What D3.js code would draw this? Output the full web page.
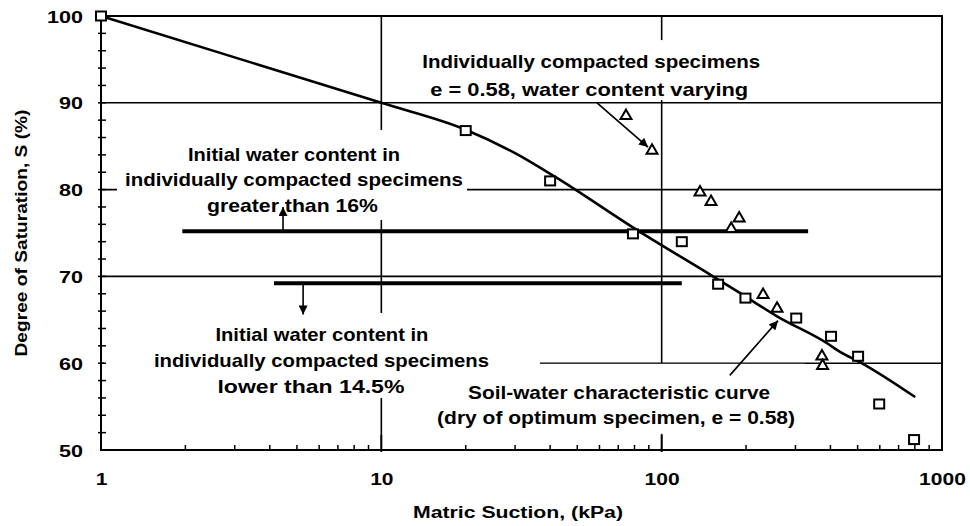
<!DOCTYPE html>
<html><head><meta charset="utf-8">
<script src="https://cdn.jsdelivr.net/npm/d3@7"></script>
<style>
body{margin:0;background:#fff}
svg{display:block}
text{font-family:"Liberation Sans",Arial,Helvetica,sans-serif;font-weight:bold;fill:#000}
</style>
</head><body>
<svg id="c" width="970" height="526"></svg>
<script>
// ---------- data ----------
const swccSuction    = [1, 20, 40, 79, 118, 159, 199, 302, 402, 502, 597, 795];
const swccSaturation = [100, 86.8, 81.0, 74.9, 74.0, 69.1, 67.5, 65.2, 63.1, 60.8, 55.3, 51.2];
const specSuction    = [74.6, 92.4, 137, 150, 189, 177, 230, 258, 373, 375];
const specSaturation = [88.6, 84.6, 79.8, 78.7, 76.8, 75.6, 68.0, 66.4, 60.9, 59.8];
const curveSuction    = [1, 10, 20, 30, 42, 82, 149, 190, 258, 389, 433, 511, 802];
const curveSaturation = [100, 90, 86.9, 84.2, 81.4, 75.3, 70.2, 68.1, 65.4, 62.3, 61.3, 60.1, 56.1];
const xTickValues = [1, 10, 100, 1000];
const yTickValues = [50, 60, 70, 80, 90, 100];
const xTickLabels = ["1", "10", "100", "1000"];
const yTickLabels = ["50", "60", "70", "80", "90", "100"];
// annotation levels (suction kPa, saturation %)
const wetBand = {from: 1.95, to: 333, s: 75.2, arrowAt: 4.46, arrowTip: 78.0};
const dryBand = {from: 4.14, to: 118, s: 69.2, arrowAt: 5.26, arrowTip: 65.6};
const specArrow = {x1: 58.8, s1: 90.0, x2: 89.4, s2: 84.9};
const curveArrow = {x1: 175, s1: 58.6, x2: 260, s2: 64.9};
const xTitle = "Matric Suction, (kPa)";
const yTitle = "Degree of Saturation, S (%)";
const notes = [
  {x: 4.88, s: 83.3, lines: ["Initial water content in", "individually compacted specimens", "greater than 16%"]},
  {x: 6.14, s: 62.56, lines: ["Initial water content in", "individually compacted specimens", "lower than 14.5%"]},
  {x: 55.6, s: 94.0, lines: ["Individually compacted specimens", "e = 0.58, water  content varying"]},
  {x: 69.9, s: 55.9, lines: ["Soil-water characteristic curve", "(dry of optimum specimen, e = 0.58)"]}
];

// ---------- layout / style ----------
const noteStyle = [
  {dy: [0, 25, 51], dx: [0, 0, -1.5], w: [212, 338, 171], pad: [14, 4, 4, 8]},
  {dy: [0, 26, 52], dx: [0, -0.5, -11], w: [213, 335, 187], pad: [11, 51, 1, 50]},
  {dy: [0, 28], dx: [1, -1], w: [338, 318], pad: [11, 20, 0, 17]},
  {dy: [0, 25], dx: [1, -2], w: [302, 358], pad: [18, 10, 6, 7]}
];

const svg = d3.select("#c");
const x = d3.scaleLog().domain([1, 1000]).range([101, 942]);
const y = d3.scaleLinear().domain([50, 100]).range([450, 16]);

const defs = svg.append("defs");
defs.append("marker").attr("id", "ah").attr("viewBox", "0 0 10 10")
  .attr("refX", 10).attr("refY", 5).attr("markerWidth", 10).attr("markerHeight", 9)
  .attr("markerUnits", "userSpaceOnUse").attr("orient", "auto")
  .append("path").attr("d", "M0,0L10,5L0,10z").attr("fill", "#000");

// gridlines
const grid = svg.append("g").attr("stroke", "#000").attr("stroke-width", 1.6);
grid.selectAll("line.h").data([60, 70, 80, 90]).join("line").attr("class", "h")
  .attr("x1", x(1)).attr("x2", x(1000)).attr("y1", d => y(d)).attr("y2", d => y(d));
grid.selectAll("line.v").data([10, 100]).join("line").attr("class", "v")
  .attr("y1", y(50)).attr("y2", y(100)).attr("x1", d => x(d)).attr("x2", d => x(d));

// text boxes (white background)
const boxG = svg.append("g");
const textG = svg.append("g");
notes.forEach((n, i) => {
  const st = noteStyle[i];
  const g = textG.append("g");
  n.lines.forEach((t, j) => {
    g.append("text").attr("x", x(n.x) + st.dx[j]).attr("y", y(n.s) + st.dy[j])
      .attr("text-anchor", "middle").attr("font-size", 19)
      .attr("textLength", st.w[j]).attr("lengthAdjust", "spacingAndGlyphs")
      .text(t);
  });
  const b = g.node().getBBox();
  boxG.append("rect").attr("x", b.x - st.pad[3]).attr("y", b.y - st.pad[0])
    .attr("width", b.width + st.pad[1] + st.pad[3]).attr("height", b.height + st.pad[0] + st.pad[2])
    .attr("fill", "#fff");
});

// frame
svg.append("rect").attr("x", x(1)).attr("y", y(100)).attr("width", x(1000) - x(1)).attr("height", y(50) - y(100))
  .attr("fill", "none").attr("stroke", "#000").attr("stroke-width", 2);

// minor ticks
const yMinor = d3.range(52, 100, 2);
svg.append("g").selectAll("line").data(yMinor).join("line")
  .attr("x1", x(1) - 3).attr("x2", x(1) + 5).attr("y1", d => y(d)).attr("y2", d => y(d))
  .attr("stroke", "#000").attr("stroke-width", 1.5);
const xMinor = [];
[1, 10, 100].forEach(dec => { for (let k = 2; k <= 9; k++) xMinor.push(k * dec); });
svg.append("g").selectAll("line").data(xMinor).join("line")
  .attr("x1", d => x(d)).attr("x2", d => x(d)).attr("y1", y(50)).attr("y2", y(50) - 5)
  .attr("stroke", "#000").attr("stroke-width", 1.5);
svg.append("g").selectAll("line").data([10, 100]).join("line")
  .attr("x1", d => x(d)).attr("x2", d => x(d)).attr("y1", y(50) + 2).attr("y2", y(50) - 15)
  .attr("stroke", "#000").attr("stroke-width", 1.8);

// axes labels via d3 axes
const xAxis = svg.append("g").attr("transform", `translate(0,${y(50)})`)
  .call(d3.axisBottom(x).tickValues(xTickValues).tickFormat((d, i) => xTickLabels[i]).tickSize(0).tickPadding(0));
xAxis.select(".domain").remove();
xAxis.selectAll("text").attr("font-size", 17).attr("dy", null).attr("y", 35)
  .style("font-family", '"Liberation Sans",Arial,sans-serif').style("font-weight", "bold")
  .attr("textLength", function () { return this.textContent.length * 11.7; })
  .attr("lengthAdjust", "spacingAndGlyphs");
const yAxis = svg.append("g").attr("transform", `translate(${x(1)},0)`)
  .call(d3.axisLeft(y).tickValues(yTickValues).tickFormat((d, i) => yTickLabels[i]).tickSize(0).tickPadding(0));
yAxis.select(".domain").remove();
yAxis.selectAll("text").attr("font-size", 17).attr("x", -18).attr("dy", "0.36em")
  .style("font-family", '"Liberation Sans",Arial,sans-serif').style("font-weight", "bold")
  .attr("textLength", function () { return this.textContent.length * 12; })
  .attr("lengthAdjust", "spacingAndGlyphs");

svg.append("text").attr("x", (x(1) + x(1000)) / 2 - 3.5).attr("y", 518).attr("text-anchor", "middle")
  .attr("font-size", 16).attr("textLength", 210).attr("lengthAdjust", "spacingAndGlyphs").text(xTitle);
svg.append("text").attr("transform", `translate(27,${(y(50) + y(100)) / 2}) rotate(-90)`).attr("text-anchor", "middle")
  .attr("font-size", 16).attr("textLength", 247).attr("lengthAdjust", "spacingAndGlyphs").text(yTitle);

// annotation bands and arrows
const ann = svg.append("g").attr("stroke", "#000");
[wetBand, dryBand].forEach(b => {
  ann.append("line").attr("x1", x(b.from)).attr("x2", x(b.to)).attr("y1", y(b.s)).attr("y2", y(b.s))
    .attr("stroke-width", 4);
  ann.append("line").attr("x1", x(b.arrowAt)).attr("x2", x(b.arrowAt)).attr("y1", y(b.s)).attr("y2", y(b.arrowTip))
    .attr("stroke-width", 1.6).attr("marker-end", "url(#ah)");
});
[specArrow, curveArrow].forEach(a => {
  ann.append("line").attr("x1", x(a.x1)).attr("y1", y(a.s1)).attr("x2", x(a.x2)).attr("y2", y(a.s2))
    .attr("stroke-width", 1.7).attr("marker-end", "url(#ah)");
});

// SWCC curve
const curve = curveSuction.map((v, i) => [v, curveSaturation[i]]);
svg.append("path").datum(curve)
  .attr("d", d3.line().x(d => x(d[0])).y(d => y(d[1])).curve(d3.curveMonotoneX))
  .attr("fill", "none").attr("stroke", "#000").attr("stroke-width", 2.6).attr("stroke-linejoin", "round");

// markers
const squares = swccSuction.map((v, i) => [v, swccSaturation[i]]);
svg.append("g").selectAll("rect").data(squares).join("rect")
  .attr("x", d => x(d[0]) - 5).attr("y", d => y(d[1]) - 4.5).attr("width", 10).attr("height", 9)
  .attr("fill", "#fff").attr("stroke", "#000").attr("stroke-width", 2);
const tris = specSuction.map((v, i) => [v, specSaturation[i]]);
const triPath = d3.symbol().type(d3.symbolTriangle).size(52);
svg.append("g").selectAll("path").data(tris).join("path")
  .attr("transform", d => `translate(${x(d[0])},${y(d[1]) + 1})`)
  .attr("d", triPath).attr("fill", "#fff").attr("stroke", "#000").attr("stroke-width", 2).attr("stroke-linejoin", "miter");
</script>
</body></html>
